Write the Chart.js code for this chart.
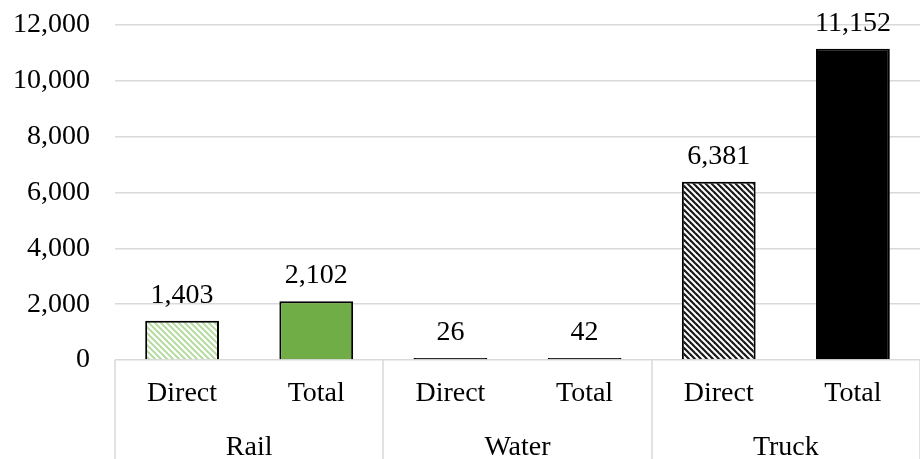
<!DOCTYPE html>
<html>
<head>
<meta charset="utf-8">
<script src="https://cdn.jsdelivr.net/npm/chart.js@4"></script>
<style>
  html, body { margin: 0; padding: 0; background: #fff; }
  #wrap { width: 920px; height: 459px; }
</style>
</head>
<body>
<div id="wrap"><canvas id="freight-chart"></canvas></div>
<script>
// data
const modes = ["Rail", "Water", "Truck"];
const measures = ["Direct", "Total"];
const values = [1403, 2102, 26, 42, 6381, 11152];
const yTicks = [0, 2000, 4000, 6000, 8000, 10000, 12000];

const FONT = "'Liberation Serif', 'Times New Roman', serif";
const FONT_SIZE = 28;
const GRID = "#d9d9d9";

// diagonal stripes for the "Direct" bars
const stripes = (color, bg, width) => {
  const size = 6;
  const c = document.createElement("canvas");
  c.width = size;
  c.height = size;
  const ctx = c.getContext("2d");
  ctx.fillStyle = bg;
  ctx.fillRect(0, 0, size, size);
  ctx.strokeStyle = color;
  ctx.lineWidth = width;
  for (const k of [-size, 0, size]) {
    ctx.beginPath();
    ctx.moveTo(k - 1, -1);
    ctx.lineTo(k + size + 1, size + 1);
    ctx.stroke();
  }
  return ctx.createPattern(c, "repeat");
};

const fills = [
  stripes("#b5dca0", "#ffffff", 2),
  "#70ad47",
  "#000000",
  "#000000",
  stripes("#1a1a1a", "#ffffff", 2.2),
  "#000000",
];

// one x slot per mode/measure pair
const labels = [];
modes.forEach(() => measures.forEach((m) => labels.push(m)));

// value labels over each bar
const valueLabels = {
  id: "valueLabels",
  afterDatasetsDraw(chart) {
    const ctx = chart.ctx;
    const meta = chart.getDatasetMeta(0);
    ctx.save();
    ctx.font = FONT_SIZE + "px " + FONT;
    ctx.fillStyle = "#000";
    ctx.textAlign = "center";
    ctx.textBaseline = "alphabetic";
    meta.data.forEach((bar, i) => {
      ctx.fillText(values[i].toLocaleString("en-US"), bar.x, bar.y - 18);
    });
    ctx.restore();
  },
};

// mode names and separators under the measure labels
const groupAxis = {
  id: "groupAxis",
  afterDraw(chart) {
    const ctx = chart.ctx;
    const x = chart.scales.x;
    const area = chart.chartArea;
    const half = (x.getPixelForValue(1) - x.getPixelForValue(0)) / 2;
    ctx.save();
    ctx.strokeStyle = GRID;
    ctx.lineWidth = 1.5;
    for (let g = 0; g <= modes.length; g++) {
      const px = Math.round(x.getPixelForValue(g * 2) - half);
      ctx.beginPath();
      ctx.moveTo(px, area.bottom);
      ctx.lineTo(px, chart.height);
      ctx.stroke();
    }
    ctx.font = FONT_SIZE + "px " + FONT;
    ctx.fillStyle = "#000";
    ctx.textAlign = "center";
    ctx.textBaseline = "middle";
    modes.forEach((m, g) => {
      const cx = (x.getPixelForValue(g * 2) + x.getPixelForValue(g * 2 + 1)) / 2;
      ctx.fillText(m, cx, area.bottom + 88);
    });
    ctx.restore();
  },
};

const config = {
  type: "bar",
  data: {
    labels: labels,
    datasets: [
      {
        data: values,
        backgroundColor: fills,
        borderColor: "#000",
        borderWidth: 2,
        minBarLength: 2,
        categoryPercentage: 1,
        barPercentage: 0.55,
      },
    ],
  },
  options: {
    responsive: true,
    maintainAspectRatio: false,
    animation: false,
    layout: { padding: { top: 25, right: 0, bottom: 0, left: 0 } },
    plugins: {
      legend: { display: false },
      tooltip: { enabled: false },
    },
    scales: {
      x: {
        grid: { display: false, drawTicks: false },
        border: { display: false },
        ticks: {
          font: { family: FONT, size: FONT_SIZE },
          color: "#000",
          padding: 17,
          maxRotation: 0,
          autoSkip: false,
        },
        afterFit: (scale) => {
          scale.height = 99;
          scale.paddingLeft = 0;
          scale.paddingRight = 0;
        },
      },
      y: {
        min: 0,
        max: 12000,
        afterBuildTicks: (scale) => { scale.ticks = yTicks.map((v) => ({ value: v })); },
        grid: { color: GRID, lineWidth: 1.5, drawTicks: false },
        border: { display: false },
        ticks: {
          font: { family: FONT, size: FONT_SIZE },
          color: "#000",
          padding: 25,
          callback: (v) => v.toLocaleString("en-US"),
        },
        afterFit: (scale) => {
          scale.width = 115;
          scale.paddingTop = 0;
          scale.paddingBottom = 0;
        },
      },
    },
  },
  plugins: [valueLabels, groupAxis],
};

const freightChart = new Chart(document.getElementById("freight-chart"), config);
</script>
</body>
</html>
